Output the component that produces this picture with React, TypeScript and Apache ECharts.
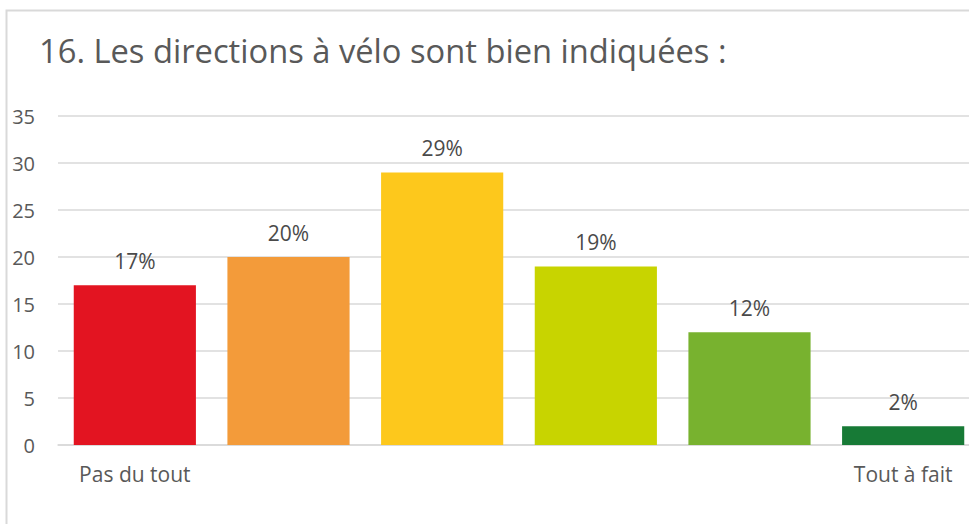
import React, { useEffect, useRef } from "react";
import * as echarts from "echarts";

const categories = ["Pas du tout", "", "", "", "", "Tout à fait"];
const values = [17, 20, 29, 19, 12, 2];
const percentLabels = ["17%", "20%", "29%", "19%", "12%", "2%"];
const barColors = ["#E31421", "#F39B3A", "#FDC81C", "#C8D400", "#78B22F", "#177A36"];
const yTicks = { min: 0, max: 35, interval: 5 };
const titleText = "16. Les directions à vélo sont bien indiquées :";

export default function App() {
  const ref = useRef<HTMLDivElement>(null);
  useEffect(() => {
    if (!ref.current) return;
    const chart = echarts.init(ref.current, undefined, { renderer: "svg" });
    const font = "'Open Sans', 'Noto Sans', sans-serif";
    chart.setOption({
      animation: false,
      backgroundColor: "#ffffff",
      title: {
        text: titleText,
        left: 34,
        top: 29,
        textStyle: { fontFamily: font, fontSize: 32.7, fontWeight: "normal", color: "#595959" },
      },
      graphic: [
        {
          type: "rect",
          shape: { x: 6.5, y: 10.5, width: 1000, height: 530 },
          style: { fill: "none", stroke: "#D9D9D9", lineWidth: 2 },
          silent: true,
        },
      ],
      grid: { left: 58, right: 10, top: 116, bottom: 79, containLabel: false },
      xAxis: {
        type: "category",
        data: categories,
        axisLine: { show: true, lineStyle: { color: "#D9D9D9", width: 1.5 } },
        axisTick: { show: false },
        axisLabel: { fontFamily: font, fontSize: 21, color: "#595959", margin: 18, interval: 0 },
      },
      yAxis: {
        type: "value",
        min: yTicks.min,
        max: yTicks.max,
        interval: yTicks.interval,
        axisLine: { show: false },
        axisTick: { show: false },
        splitLine: { lineStyle: { color: "#D9D9D9", width: 1.5 } },
        axisLabel: { fontFamily: font, fontSize: 20, color: "#595959", margin: 23 },
      },
      series: [
        {
          type: "bar",
          barCategoryGap: "20.5%",
          data: values.map((v, i) => ({ value: v, itemStyle: { color: barColors[i] } })),
          label: {
            show: true,
            position: "top",
            distance: 14,
            fontFamily: font,
            fontSize: 21,
            color: "#4A4A4A",
            formatter: (p: any) => percentLabels[p.dataIndex],
          },
        },
      ],
    });
    return () => chart.dispose();
  }, []);
  return (
    <div
      ref={ref}
      style={{ position: "fixed", left: 0, top: 0, width: 990, height: 524, background: "#fff" }}
    />
  );
}
